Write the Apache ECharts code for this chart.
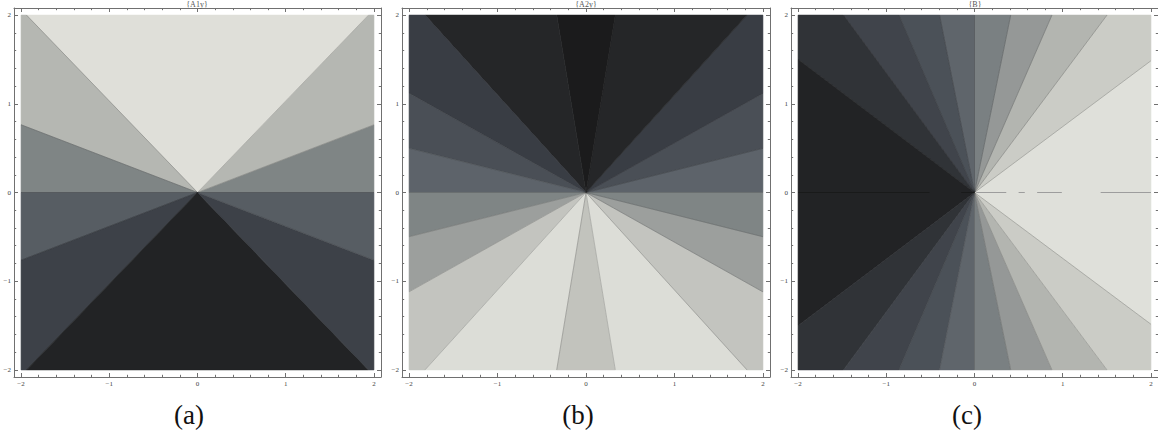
<!DOCTYPE html>
<html><head><meta charset="utf-8">
<script src="https://cdn.jsdelivr.net/npm/echarts@6/dist/echarts.min.js"></script>
<style>html,body{margin:0;padding:0;background:#fff}#main{width:1158px;height:440px}</style>
</head><body><div id="main"></div>
<script>
// ---------- data ----------
const panelTitles = ['{A1y}', '{A2y}', '{B}'];
const captions = ['(a)', '(b)', '(c)'];
const majorTicks = [-2, -1, 0, 1, 2];
const majorTickLabels = ['\u22122', '\u22121', '0', '1', '2'];
const minorTicks = [-1.8, -1.6, -1.4, -1.2, -0.8, -0.6, -0.4, -0.2, 0.2, 0.4, 0.6, 0.8, 1.2, 1.4, 1.6, 1.8];

// contour region boundaries (degrees from +x axis, counter-clockwise) and fill grays
const wedgeAnglesA = [0, 20.9, 45.9, 134.1, 159.1, 180, 200.9, 225.9, 314.1, 339.1, 360];
const wedgeColorsA = ['#7f8585', '#b5b7b2', '#dfdfd9', '#b5b7b2', '#7f8585', '#575d63', '#3d4148', '#222325', '#3d4148', '#575d63'];

const wedgeAnglesB = [0, 14, 29.25, 47.7, 80.6, 99.4, 132.3, 150.75, 166, 180, 194, 209.25, 227.7, 260.6, 279.4, 312.3, 330.75, 346, 360];
const wedgeColorsB = ['#5d636a', '#4a4f56', '#393d44', '#252628', '#1b1b1c', '#252628', '#393d44', '#4a4f56', '#5d636a',
                      '#7f8585', '#9c9f9d', '#c3c4bf', '#dcddd7', '#c2c3bd', '#dcddd7', '#c3c4bf', '#9c9f9d', '#7f8585'];

const wedgeAnglesC = [-36.6, 36.6, 53.1, 66.3, 78.4, 90, 101.2, 113.2, 126.6, 143.1, 216.9, 233.4, 246.8, 258.8, 270, 281.6, 293.7, 306.9, 323.4];
const wedgeColorsC = ['#dfe0da', '#cbccc6', '#b3b5b0', '#959897', '#7a8082', '#5f656b', '#4b5158', '#40444b', '#303337',
                      '#222325', '#303337', '#40444b', '#4b5158', '#5f656b', '#7a8082', '#959897', '#b3b5b0', '#cbccc6'];

// stray contour fragments along y = 0 in panel (c): [x start, x end]
const axisFragmentsLightC = [[0.02, 0.36], [0.5, 0.57], [0.71, 0.99], [1.43, 2.0]];
const axisFragmentsDarkC = [[-2.0, -0.51], [-0.15, 0.0]];

// ---------- layout ----------
const HALF = 2;          // plotted domain is [-2, 2] x [-2, 2]
const FRAME = 2.08;      // frame drawn slightly outside the domain
const gridBoxes = [
  {left: 14, top: 8, width: 367, height: 369},
  {left: 402, top: 8, width: 368, height: 369},
  {left: 791, top: 8, width: 368, height: 369}
];
const titleCenters = [197, 586, 975];
const captionCenters = [189, 578, 967];
const panels = [
  {angles: wedgeAnglesA, colors: wedgeColorsA},
  {angles: wedgeAnglesB, colors: wedgeColorsB},
  {angles: wedgeAnglesC, colors: wedgeColorsC}
];

const frameColor = '#707070';
const labelStyle = {fontSize: 7, fontFamily: 'Liberation Serif', color: '#444'};

function fmt(v) { const i = majorTicks.indexOf(v); return i >= 0 ? majorTickLabels[i] : String(v); }

function axisSet(dim, gi) {
  const posMain = dim === 'x' ? 'bottom' : 'left';
  const posOpp = dim === 'x' ? 'top' : 'right';
  const base = {type: 'value', gridIndex: gi, min: -FRAME, max: FRAME, splitLine: {show: false}};
  const mk = (pos, major, line, label) => Object.assign({}, base, {
    position: pos,
    axisLine: {show: line, onZero: false, lineStyle: {color: frameColor, width: 1}},
    axisTick: {show: true, inside: true, length: major ? 4 : 2.2, customValues: major ? majorTicks : minorTicks,
               lineStyle: {color: frameColor, width: 1}},
    axisLabel: label ? Object.assign({show: true, customValues: majorTicks, margin: 3, formatter: fmt}, labelStyle) : {show: false}
  });
  return [mk(posMain, true, true, true), mk(posMain, false, false, false), mk(posOpp, true, true, false), mk(posOpp, false, false, false)];
}

function rayPoint(deg) {
  const r = deg * Math.PI / 180, c = Math.cos(r), s = Math.sin(r);
  const t = HALF / Math.max(Math.abs(c), Math.abs(s));
  return [t * c, t * s];
}

function renderWedge(params, api) {
  const a1 = api.value(0), a2 = api.value(1);
  const pts = [[0, 0], rayPoint(a1)];
  for (let k = -1; k <= 1; k++) {
    for (const c of [45, 135, 225, 315]) {
      const cc = c + 360 * k;
      if (cc > a1 && cc < a2) pts.push(rayPoint(cc));
    }
  }
  pts.push(rayPoint(a2));
  const color = api.visual('color');
  return {type: 'polygon', shape: {points: pts.map(p => api.coord(p))},
          style: {fill: color, stroke: color, lineWidth: 0.6}};
}

function renderBoundary(params, api) {
  const o = api.coord([0, 0]);
  const e = api.coord(rayPoint(api.value(0)));
  return {type: 'line', shape: {x1: o[0], y1: o[1], x2: e[0], y2: e[1]},
          style: {stroke: 'rgba(40,40,40,0.32)', lineWidth: 0.7}};
}

function fragmentRenderer(color) {
  return function (params, api) {
    const s = api.coord([api.value(0), 0]);
    const e = api.coord([api.value(1), 0]);
    return {type: 'line', shape: {x1: s[0], y1: s[1], x2: e[0], y2: e[1]}, style: {stroke: color, lineWidth: 1}};
  };
}

const xAxes = [], yAxes = [], series = [], titles = [];
panels.forEach((p, i) => {
  xAxes.push(...axisSet('x', i));
  yAxes.push(...axisSet('y', i));
  const wedgeData = p.colors.map((col, k) => ({value: [p.angles[k], p.angles[k + 1]], itemStyle: {color: col}}));
  series.push({type: 'custom', xAxisIndex: 4 * i, yAxisIndex: 4 * i, renderItem: renderWedge, data: wedgeData, silent: true, z: 2});
  const bData = p.angles.slice(0, p.colors.length).map(a => [a, 0]);
  series.push({type: 'custom', xAxisIndex: 4 * i, yAxisIndex: 4 * i, renderItem: renderBoundary, data: bData, silent: true, z: 3});
  titles.push({text: panelTitles[i], left: titleCenters[i], top: 0, padding: 0, textAlign: 'center',
               textStyle: {fontSize: 8, fontWeight: 'normal', fontFamily: 'Liberation Serif', color: '#555'}});
  titles.push({text: captions[i], left: captionCenters[i], top: 401, padding: 0, textAlign: 'center',
               textStyle: {fontSize: 27, fontWeight: 'normal', fontFamily: 'Liberation Serif', color: '#111'}});
});
series.push({type: 'custom', xAxisIndex: 8, yAxisIndex: 8, renderItem: fragmentRenderer('rgba(150,150,150,0.9)'),
             data: axisFragmentsLightC, silent: true, z: 4});
series.push({type: 'custom', xAxisIndex: 8, yAxisIndex: 8, renderItem: fragmentRenderer('rgba(20,20,20,0.6)'),
             data: axisFragmentsDarkC, silent: true, z: 4});

const chart = echarts.init(document.getElementById('main'), null, {renderer: 'svg'});
chart.setOption({
  animation: false,
  backgroundColor: '#fff',
  title: titles,
  grid: gridBoxes.map(g => Object.assign({containLabel: false}, g)),
  xAxis: xAxes,
  yAxis: yAxes,
  series: series
});
</script>
</body></html>
